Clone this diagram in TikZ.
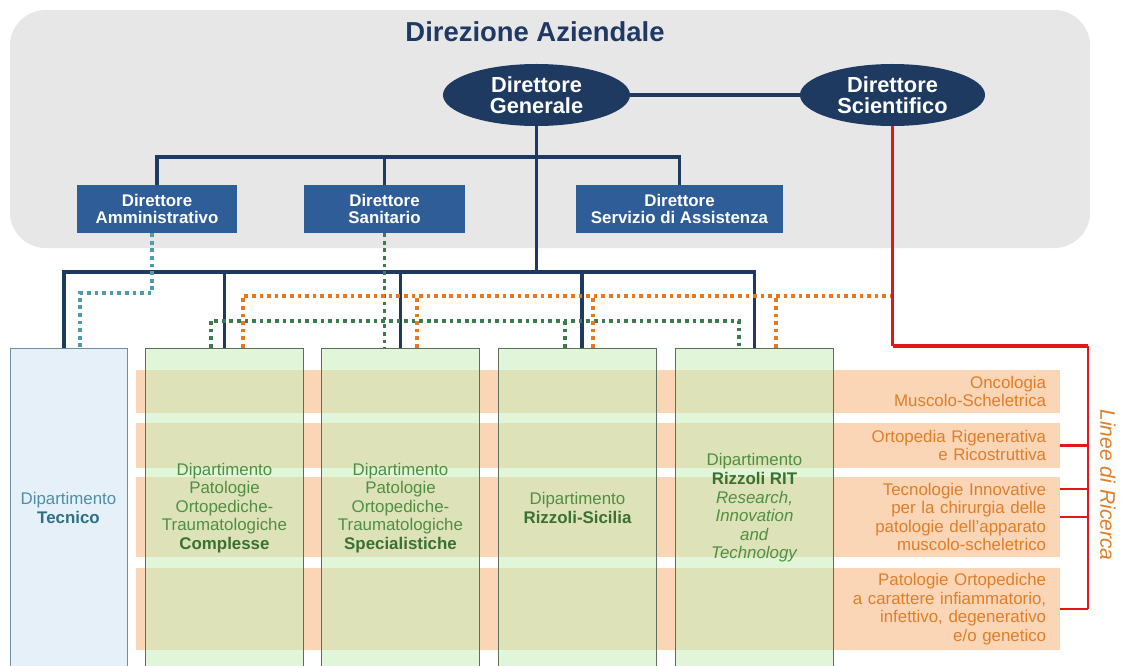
\documentclass[tikz,border=0pt]{standalone}
\usepackage{fontspec}
\setmainfont{Liberation Sans}
\usetikzlibrary{shapes.geometric}

\definecolor{navy}{HTML}{1F3A60}
\definecolor{titleblue}{HTML}{1F3864}
\definecolor{boxblue}{HTML}{2F5D97}
\definecolor{panelgrey}{HTML}{E7E7E7}
\definecolor{tealdot}{HTML}{4E9CAB}
\definecolor{greendot}{HTML}{3F7A4E}
\definecolor{orangedot}{HTML}{E8781E}
\definecolor{redline}{HTML}{E3171B}
\definecolor{peach}{HTML}{FAD5B6}
\definecolor{orangetxt}{HTML}{E07F2A}
\definecolor{deptfill}{HTML}{C8EDBA}
\definecolor{deptline}{HTML}{5C6E5C}
\definecolor{depttxt}{HTML}{4F8F42}
\definecolor{deptdark}{HTML}{3A7030}
\definecolor{tecfill}{HTML}{E6F0F8}
\definecolor{tecline}{HTML}{6E8E9E}
\definecolor{tectxt}{HTML}{4C8FA6}
\definecolor{tecdark}{HTML}{2F6F86}

\newcommand\nomedip[1]{\textbf{\color{deptdark}#1}}

\begin{document}
\begin{tikzpicture}[x=0.025cm,y=-0.025cm,
  every node/.style={inner sep=0pt},
  panel/.style={fill=panelgrey,rounded corners=0.9cm,minimum width=27cm,minimum height=5.95cm},
  titolo/.style={text=titleblue,font=\bfseries\fontsize{19.5}{22}\selectfont},
  capo/.style={ellipse,fill=navy,text=white,align=center,minimum height=1.55cm,
    font=\bfseries\fontsize{15.5}{15}\selectfont},
  dirbox/.style={fill=boxblue,text=white,align=center,minimum height=1.2cm,
    font=\bfseries\fontsize{12}{12.2}\selectfont},
  dept/.style={draw=deptline,line width=0.5pt,fill=deptfill,fill opacity=0.55,text opacity=1,
    text=depttxt,align=center,minimum width=3.95cm,minimum height=8cm,
    font=\fontsize{12}{13.2}\selectfont},
  tecbox/.style={draw=tecline,line width=0.5pt,fill=tecfill,text=tectxt,align=center,
    minimum width=2.925cm,minimum height=8cm,font=\fontsize{12}{13.2}\selectfont},
  linea/.style={fill=peach,minimum width=23.1cm,text width=22.4cm,align=right,
    text=orangetxt,font=\fontsize{12}{13.2}\selectfont},
  tree/.style={draw=navy,line width=2.7pt},
  dotline/.style={line width=2.7pt,dash pattern=on 2.6pt off 2.8pt},
  rosso/.style={draw=redline,line width=1.6pt}]

\useasboundingbox (0,0) rectangle (1121,666);

\node[panel] (dir) at (550,129) {};
\node[titolo] (tit) at (535,32) {Direzione Aziendale};

\node[capo,minimum width=4.675cm] (dg) at (536.5,95) {Direttore\\Generale};
\node[capo,minimum width=4.625cm] (ds) at (892.5,95) {Direttore\\Scientifico};
\node[dirbox,minimum width=4cm] (amm) at (157,209) {Direttore\\Amministrativo};
\node[dirbox,minimum width=4.025cm] (san) at (384.5,209) {Direttore\\Sanitario};
\node[dirbox,minimum width=5.175cm] (ass) at (679.5,209) {Direttore\\Servizio di Assistenza};

\node[tecbox] (tec) at (68.5,508) {Dipartimento\\\textbf{\color{tecdark}Tecnico}};

\node[linea,minimum height=1.075cm] (r1) at (598,391.5) {Oncologia\\Muscolo-Scheletrica};
\node[linea,minimum height=1.125cm] (r2) at (598,445.5) {Ortopedia Rigenerativa\\e Ricostruttiva};
\node[linea,minimum height=2cm] (r3) at (598,517) {Tecnologie Innovative\\per la chirurgia delle\\patologie dell'apparato\\muscolo-scheletrico};
\node[linea,minimum height=2.05cm] (r4) at (598,609) {Patologie Ortopediche\\a carattere infiammatorio,\\infettivo, degenerativo\\e/o genetico};

\node[dept] (oc) at (224.5,508) {Dipartimento\\Patologie\\Ortopediche-\\Traumatologiche\\\nomedip{Complesse}};
\node[dept] (os) at (400.5,508) {Dipartimento\\Patologie\\Ortopediche-\\Traumatologiche\\\nomedip{Specialistiche}};
\node[dept] (sic) at (577.5,508) {Dipartimento\\\nomedip{Rizzoli-Sicilia}};
\node[dept] (rit) at (754.5,508) {Dipartimento\\\nomedip{Rizzoli RIT}\\\textit{Research,}\\\textit{Innovation}\\\textit{and}\\\textit{Technology}};

\node[rotate=-90,text=orangetxt,font=\itshape\fontsize{15}{16}\selectfont] (linee) at (1108,485) {Linee di Ricerca};

\draw[tree] (dg) -- (ds);
\draw[tree] (dg.south) -- ++(0,147);
\draw[tree] (amm.north) -- ++(0,-28) -| (ass.north);
\draw[tree] (san.north) -- ++(0,-28);
\draw[tree] ([xshift=-0.11cm]tec.north) -- ++(0,-76) -| (rit.north);
\draw[tree] (oc.north) -- ++(0,-76);
\draw[tree] (os.north) -- ++(0,-76);
\draw[tree] ([xshift=0.11cm]sic.north) -- ++(0,-76);

\draw[dotline,tealdot] ([xshift=-0.12cm]amm.south) -- ++(0,60) -| ([xshift=0.29cm]tec.north);
\draw[dotline,greendot] (san.south) -- (san.south |- os.north);
\draw[dotline,greendot] ([xshift=-0.34cm]oc.north) -- ++(0,-27) -| ([xshift=-0.39cm]rit.north);
\draw[dotline,greendot] ([xshift=-0.31cm]sic.north) -- ++(0,-27);

\coordinate (ojoin) at (892.5,296);
\coordinate (rknee) at (1088,346);
\draw[dotline,orangedot] ([xshift=0.46cm]oc.north) |- (ojoin);
\draw[dotline,orangedot] ([xshift=0.41cm]os.north) -- ++(0,-52);
\draw[dotline,orangedot] ([xshift=0.39cm]sic.north) -- ++(0,-52);
\draw[dotline,orangedot] ([xshift=0.54cm]rit.north) -- ++(0,-52);

\draw[rosso] (ds.south) -- (ds.south |- rknee);
\draw[rosso,line width=2.6pt] (ds.south |- rknee) -- (rknee);
\draw[rosso] (rknee) -- (rknee |- r4.east);
\draw[rosso] (r2.east) -- (r2.east -| rknee);
\draw[rosso] ([yshift=0.7cm]r3.east) -- ++(28,0);
\draw[rosso] (r3.east) -- (r3.east -| rknee);
\draw[rosso] (r4.east) -- (r4.east -| rknee);
\end{tikzpicture}
\end{document}
